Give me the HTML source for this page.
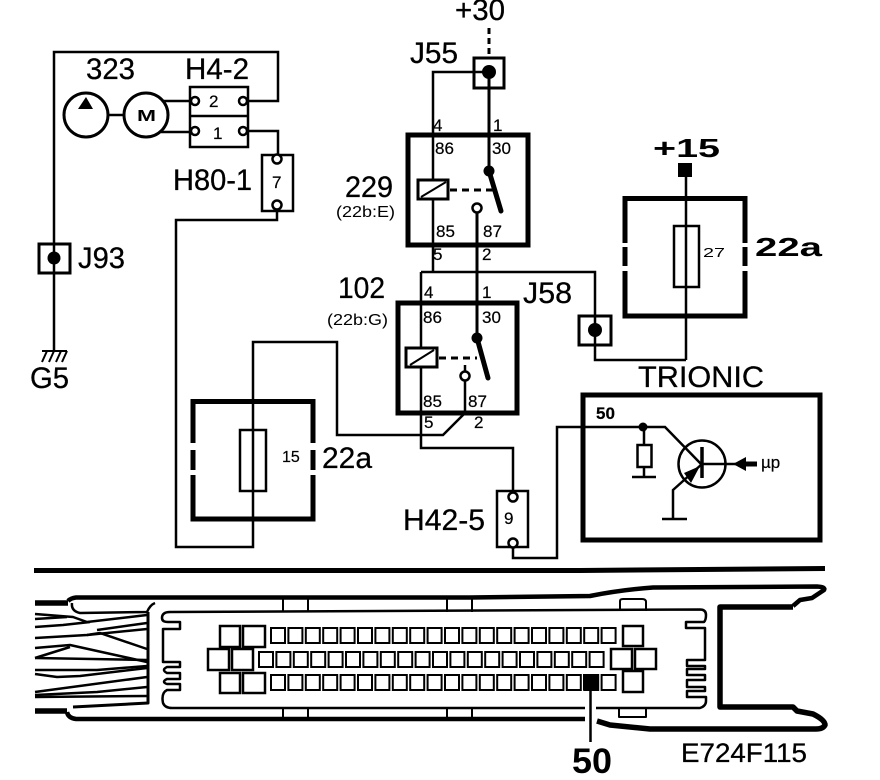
<!DOCTYPE html>
<html><head><meta charset="utf-8"><style>
html,body{margin:0;padding:0;background:#fff}
svg{display:block}
text{font-family:"Liberation Sans",sans-serif;fill:#000}
</style></head><body>
<svg xmlns="http://www.w3.org/2000/svg" width="880" height="780" viewBox="0 0 880 780">
<defs>
<g id="row" fill="#fff" stroke="#000" stroke-width="2">
<rect x="0" y="0" width="14" height="15"/><rect x="17.4" y="0" width="14" height="15"/><rect x="34.8" y="0" width="14" height="15"/><rect x="52.2" y="0" width="14" height="15"/><rect x="69.6" y="0" width="14" height="15"/><rect x="87" y="0" width="14" height="15"/><rect x="104.4" y="0" width="14" height="15"/><rect x="121.8" y="0" width="14" height="15"/><rect x="139.2" y="0" width="14" height="15"/><rect x="156.6" y="0" width="14" height="15"/><rect x="174" y="0" width="14" height="15"/><rect x="191.4" y="0" width="14" height="15"/><rect x="208.8" y="0" width="14" height="15"/><rect x="226.2" y="0" width="14" height="15"/><rect x="243.6" y="0" width="14" height="15"/><rect x="261" y="0" width="14" height="15"/><rect x="278.4" y="0" width="14" height="15"/><rect x="295.8" y="0" width="14" height="15"/><rect x="313.2" y="0" width="14" height="15"/><rect x="330.6" y="0" width="14" height="15"/>
</g>
</defs>
<rect width="880" height="780" fill="#fff"/>

<!-- wiring -->
<g fill="none" stroke="#000" stroke-width="2.5" stroke-linejoin="miter">
<path d="M54 350V52H278V101H249"/>
<path d="M108 115H124"/>
<path d="M163 101H190M161 132H190"/>
<path d="M248 131H278V155"/>
<path d="M277 210V220H176V547H253V342H337V435H443L465 413"/>
<path d="M489 72H433V245"/>
<path d="M489 72V135" stroke-width="3"/>
<path d="M489 135V171" stroke-width="3"/>
<path d="M489 28V57" stroke-dasharray="6 4" stroke-width="3"/>
<path d="M477 213V338" stroke-width="3"/>
<path d="M433 245V272M421 272H595V360H686"/>
<path d="M421 272V448H513V492"/>
<path d="M465 365V413"/>
<path d="M513 548V558H557V427H665L702 465"/>
<path d="M686 177V360"/>
</g>

<!-- pump + motor -->
<circle cx="86" cy="115" r="22" fill="#fff" stroke="#000" stroke-width="3"/>
<circle cx="146" cy="115" r="22" fill="#fff" stroke="#000" stroke-width="3"/>
<path d="M78 109L86 97L93 109Z" fill="#000"/>
<text x="137" y="121" font-size="16" font-weight="bold" textLength="19" lengthAdjust="spacingAndGlyphs">M</text>

<!-- H4-2 -->
<rect x="190" y="87" width="58" height="60" fill="none" stroke="#000" stroke-width="2.5"/>
<path d="M190 116H248" stroke="#000" stroke-width="2.5"/>
<g fill="#fff" stroke="#000" stroke-width="2.5">
<circle cx="195" cy="101" r="4"/><circle cx="243" cy="101" r="4"/>
<circle cx="195" cy="131" r="4"/><circle cx="243" cy="131" r="4"/>
</g>
<!-- H80-1 -->
<rect x="262" y="155" width="31" height="56" fill="#fff" stroke="#000" stroke-width="2.5"/>
<circle cx="277" cy="159" r="4.5" fill="#fff" stroke="#000" stroke-width="2.5"/>
<circle cx="277" cy="205" r="4.5" fill="#fff" stroke="#000" stroke-width="2.5"/>

<!-- J93 + ground -->
<rect x="39" y="244" width="31" height="29" fill="none" stroke="#000" stroke-width="3"/>
<circle cx="54" cy="258" r="6.5" fill="#000"/>
<path d="M42 351H67M47 351L42 362M54 351L49 362M61 351L56 362M67 351L62 362" stroke="#000" stroke-width="2" fill="none"/>

<!-- J55 -->
<rect x="474" y="58" width="30" height="30" fill="none" stroke="#000" stroke-width="3"/>
<circle cx="489" cy="72" r="7" fill="#000"/>

<!-- relay 229 -->
<rect x="408" y="135" width="120" height="110" fill="none" stroke="#000" stroke-width="5"/>
<rect x="418" y="180" width="30" height="19" fill="#fff" stroke="#000" stroke-width="3"/>
<path d="M421 197L446 182" stroke="#000" stroke-width="2"/>
<path d="M450 190H493" stroke="#000" stroke-width="3" stroke-dasharray="7 5"/>
<circle cx="489" cy="171" r="5.5" fill="#000"/>
<path d="M489 171L501 211" stroke="#000" stroke-width="5" stroke-linecap="round"/>
<circle cx="477" cy="208" r="4.5" fill="#fff" stroke="#000" stroke-width="2.5"/>

<!-- relay 102 -->
<rect x="398" y="303" width="119" height="110" fill="none" stroke="#000" stroke-width="5"/>
<rect x="406" y="348" width="31" height="19" fill="#fff" stroke="#000" stroke-width="3"/>
<path d="M410 365L434 350" stroke="#000" stroke-width="2"/>
<path d="M439 358H477" stroke="#000" stroke-width="3" stroke-dasharray="7 5"/>
<circle cx="477" cy="338" r="5.5" fill="#000"/>
<path d="M477 338L488 378" stroke="#000" stroke-width="5" stroke-linecap="round"/>
<circle cx="465" cy="376" r="4.5" fill="#fff" stroke="#000" stroke-width="2.5"/>

<!-- H42-5 -->
<rect x="497" y="491" width="31" height="56" fill="#fff" stroke="#000" stroke-width="2.5"/>
<circle cx="513" cy="497" r="4.5" fill="#fff" stroke="#000" stroke-width="2.5"/>
<circle cx="513" cy="543" r="4.5" fill="#fff" stroke="#000" stroke-width="2.5"/>

<!-- J58 -->
<rect x="579" y="316" width="32" height="29" fill="none" stroke="#000" stroke-width="3"/>
<circle cx="595" cy="330" r="7" fill="#000"/>

<!-- fuse 27 / 22a top -->
<rect x="678" y="163" width="14" height="14" fill="#000"/>
<path d="M625 243V198.5H745V243M745 247V266M745 271V316H625V271M625 266V247" fill="none" stroke="#000" stroke-width="5"/>
<rect x="674" y="226" width="25" height="61" fill="none" stroke="#000" stroke-width="2.5"/>

<!-- fuse 15 / 22a lower -->
<path d="M193 443V401.5H313V443M313 450V470M313 475V519H193V475M193 470V450" fill="none" stroke="#000" stroke-width="5"/>
<rect x="240" y="430" width="26" height="61" fill="none" stroke="#000" stroke-width="2.5"/>

<!-- Trionic -->
<rect x="583" y="395" width="237" height="145" fill="none" stroke="#000" stroke-width="5"/>
<circle cx="643" cy="427" r="4.5" fill="#000"/>
<rect x="637.5" y="445" width="14" height="22" fill="none" stroke="#000" stroke-width="2.5"/>
<path d="M644 427V445M644 467V477M632 477H656" stroke="#000" stroke-width="2.5" fill="none"/>
<circle cx="702" cy="464" r="23.5" fill="none" stroke="#000" stroke-width="2.5"/>
<path d="M702 447V478" stroke="#000" stroke-width="3.5"/>
<path d="M702 464H745" stroke="#000" stroke-width="2.5"/>
<path d="M733 464L746 457V471Z" fill="#000"/>
<path d="M745 464H757" stroke="#000" stroke-width="5"/>
<path d="M702 464L673 490V519M662 519H687" stroke="#000" stroke-width="2.5" fill="none"/>
<path d="M700 466L684 473L691 483Z" fill="#000"/>

<!-- divider -->
<path d="M34 570.5H580L825 568.5" stroke="#000" stroke-width="5" fill="none"/>

<!-- connector outline -->
<g fill="none" stroke="#000" stroke-linejoin="round">
<path d="M68 601Q71 598 76 597.5H470L590 596Q620 590 653 587.5L817 586.5Q826 587 824 590L812 598L800 600L793 606" stroke-width="4.5"/>
<path d="M793 607H720V707H793L797 711L813 714Q825 720 825 725Q823 729 816 729H650L610 725L597 721" stroke-width="5.5"/>
<path d="M585 719H76Q68 718 67 712" stroke-width="4.5"/>
<path d="M35 603H68M35 711H67" stroke-width="5.5"/>
<path d="M72 603Q71 611 80 613L147 612Q150 605 155 603" stroke-width="2.5"/>
<path d="M148 612L148 703L73 707" stroke-width="3"/>
<!-- cables -->
<g stroke-width="2.5">
<path d="M35 614L73 617L87 622L147 615"/>
<path d="M35 619L67 617"/>
<path d="M35 627L63 625L90 622"/>
<path d="M97 630L147 623"/>
<path d="M35 638L87 635L100 633L147 649"/>
<path d="M87 635L147 629"/>
<path d="M35 648L70 645L147 662"/>
<path d="M35 658L70 647"/>
<path d="M35 658L147 660"/>
<path d="M35 670L97 670L147 666"/>
<path d="M35 674L57 677L80 676L147 668"/>
<path d="M35 692L147 677"/>
<path d="M35 695L97 692L147 687"/>
<path d="M35 697L147 696"/>
</g>
<!-- inner plate -->
<path d="M700 609.5L170 612Q162 612 162 618Q162 622 168 622H180V629H163V662H180V667H167Q161 670 167 673H180V679H167Q161 682 167 684H180V690H167Q161 693 163 703Q165 708 172 708H585M596 708H700Q706 706 706 701V697H687V691H705V687H687V680H705V675H687V669H705V666H687V660H705V628H686V622H704Q706 620 706 615Q706 609.5 700 609.5" stroke-width="2.5"/>
<path d="M283 599V612M308 599V612M283 708V718M308 708V718M447 599V612M472 599V612M447 708V718M472 708V718" stroke-width="2"/>
<path d="M620 611V601Q620 599 623 599H642Q646 599 646 602V611" stroke-width="2"/>
<path d="M619 709V717H646V709" stroke-width="2"/>
</g>

<!-- pins -->
<g fill="#fff" stroke="#000" stroke-width="2.5">
<rect x="220" y="626" width="20" height="21"/><rect x="243" y="626" width="22" height="21"/>
<rect x="208" y="649" width="21" height="21"/><rect x="232" y="649" width="21" height="21"/>
<rect x="220" y="673" width="20" height="20"/><rect x="243" y="673" width="22" height="20"/>
<rect x="623" y="626" width="20" height="20"/>
<rect x="611" y="649" width="21" height="20"/><rect x="635" y="649" width="21" height="20"/>
<rect x="623" y="671" width="20" height="21"/>
</g>
<use href="#row" x="271" y="628"/>
<use href="#row" x="259" y="652"/>
<use href="#row" x="271" y="675"/>
<rect x="583" y="674" width="15" height="16" fill="#000"/>
<rect x="585" y="700" width="11" height="24" fill="#fff"/>
<path d="M590.5 689V742" stroke="#000" stroke-width="2.5"/>

<!-- labels -->
<g font-size="30" stroke="#000" stroke-width=".3">
<text x="455" y="20" textLength="50" lengthAdjust="spacingAndGlyphs">+30</text>
<text x="410" y="63" textLength="48" lengthAdjust="spacingAndGlyphs">J55</text>
<text x="86" y="79" textLength="49" lengthAdjust="spacingAndGlyphs">323</text>
<text x="185" y="79" textLength="64" lengthAdjust="spacingAndGlyphs">H4-2</text>
<text x="173" y="190" textLength="79" lengthAdjust="spacingAndGlyphs">H80-1</text>
<text x="345" y="197" textLength="48" lengthAdjust="spacingAndGlyphs">229</text>
<text x="78" y="268" textLength="47" lengthAdjust="spacingAndGlyphs">J93</text>
<text x="30" y="388" textLength="39" lengthAdjust="spacingAndGlyphs">G5</text>
<text x="338" y="298" textLength="47" lengthAdjust="spacingAndGlyphs">102</text>
<text x="523" y="303" textLength="49" lengthAdjust="spacingAndGlyphs">J58</text>
<text x="322" y="468" textLength="50" lengthAdjust="spacingAndGlyphs">22a</text>
<text x="403" y="530" textLength="82" lengthAdjust="spacingAndGlyphs">H42-5</text>
<text x="638" y="387" textLength="126" lengthAdjust="spacingAndGlyphs">TRIONIC</text>
<text x="681" y="762" font-size="27" textLength="126" lengthAdjust="spacingAndGlyphs">E724F115</text>
</g>
<g font-size="26" font-weight="bold">
<text x="653" y="157" textLength="67" lengthAdjust="spacingAndGlyphs">+15</text>
<text x="755" y="256" textLength="67" lengthAdjust="spacingAndGlyphs">22a</text>
</g>
<text x="572" y="773" font-size="35" font-weight="bold" textLength="40" lengthAdjust="spacingAndGlyphs">50</text>

<text x="336" y="217" font-size="16" textLength="59" lengthAdjust="spacingAndGlyphs">(22b:E)</text>
<text x="327" y="325" font-size="16" textLength="61" lengthAdjust="spacingAndGlyphs">(22b:G)</text>

<g font-size="17" stroke="#000" stroke-width=".2">
<text x="209" y="107">2</text>
<text x="213" y="139">1</text>
<text x="272" y="188">7</text>
<text x="504" y="524">9</text>
<text x="433" y="131">4</text><text x="493" y="131">1</text>
<text x="435" y="154">86</text><text x="492" y="154">30</text>
<text x="436" y="237">85</text><text x="483" y="237">87</text>
<text x="433" y="260">5</text><text x="482" y="260">2</text>
<text x="424" y="298">4</text><text x="482" y="298">1</text>
<text x="423" y="323">86</text><text x="482" y="323">30</text>
<text x="423" y="407">85</text><text x="468" y="407">87</text>
<text x="424" y="428">5</text><text x="474" y="428">2</text>
<text x="282" y="462" font-size="16">15</text>
<text x="596" y="419" font-size="17" font-weight="bold">50</text>
<text x="761" y="468" font-size="17">µp</text>
</g>
<text x="703" y="257" font-size="13" textLength="22" lengthAdjust="spacingAndGlyphs">27</text>
</svg>
</body></html>
